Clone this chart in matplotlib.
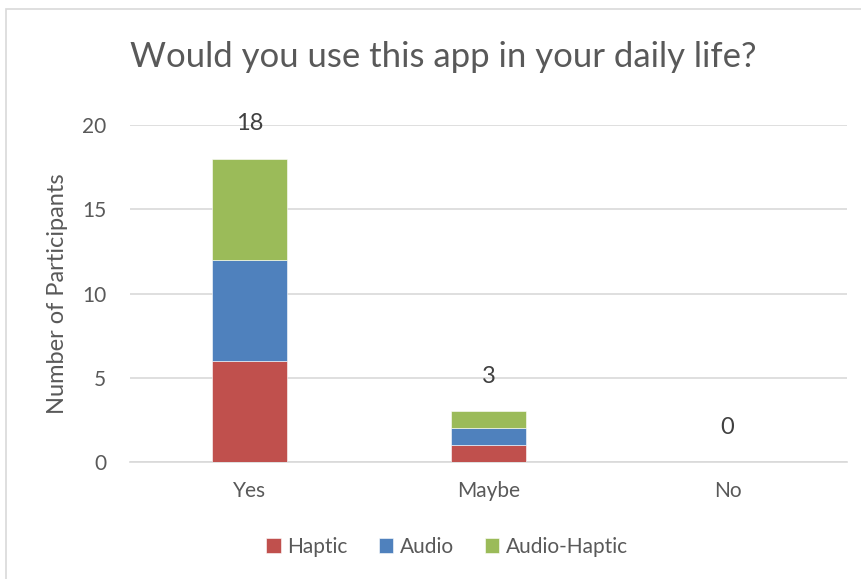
import numpy as np
import matplotlib.pyplot as plt
from matplotlib.patches import Rectangle

plt.rcParams['font.family'] = ['Lato', 'DejaVu Sans']

# survey answers per condition
answers = ['Yes', 'Maybe', 'No']
haptic = [6, 1, 0]
audio = [6, 1, 0]
audio_haptic = [6, 1, 0]
totals = [18, 3, 0]

series = [('Haptic', haptic, '#C0504D'),
          ('Audio', audio, '#4F81BD'),
          ('Audio-Haptic', audio_haptic, '#9BBB59')]

fig = plt.figure(figsize=(8.62, 5.79), dpi=100)
ax = fig.add_axes([130/862, 1 - 462/579, 717/862, (462 - 125)/579])

x = np.arange(len(answers))
bottom = np.zeros(len(answers))
for name, vals, color in series:
    ax.bar(x, vals, width=0.31, bottom=bottom, color=color, label=name,
           edgecolor='white', linewidth=0.4, zorder=3)
    bottom += np.array(vals)

for xi, t in zip(x, totals):
    ax.annotate(str(t), (xi, t), xytext=(0, 25), textcoords='offset points',
                ha='center', va='center', fontsize=17, color='#404040')

ax.set_xlim(-0.5, 2.5)
ax.set_ylim(0, 20)
ax.set_yticks([0, 5, 10, 15, 20])
ax.set_xticks(x)
ax.set_xticklabels(answers)
ax.yaxis.grid(True, color='#D9D9D9', linewidth=1.2, zorder=0)
ax.set_axisbelow(True)
for s in ['top', 'right', 'left']:
    ax.spines[s].set_visible(False)
ax.spines['bottom'].set_color('#D9D9D9')
ax.spines['bottom'].set_linewidth(1.2)
ax.tick_params(axis='both', length=0, labelsize=15, colors='#595959')
ax.tick_params(axis='x', pad=14)
ax.tick_params(axis='y', pad=17)
ax.set_ylabel('Number of Participants', fontsize=17, color='#595959', labelpad=10)

fig.text(443/862, 1 - 57/579, 'Would you use this app in your daily life?',
         ha='center', va='center', fontsize=25, color='#595959')

handles, labels = ax.get_legend_handles_labels()
fig.legend(handles, labels, loc='center', bbox_to_anchor=(447/862, 1 - 547/579),
           ncol=3, frameon=False, fontsize=15, labelcolor='#595959',
           handlelength=0.7, handleheight=0.7, handletextpad=0.3, columnspacing=1.5)

# chart border
fig.patches.append(Rectangle((6/862, -0.01), 1.0, 1 - 9/579 + 0.01,
                             transform=fig.transFigure, fill=False,
                             edgecolor='#D9D9D9', linewidth=1.2))

fig.savefig('out.png', dpi=100)
